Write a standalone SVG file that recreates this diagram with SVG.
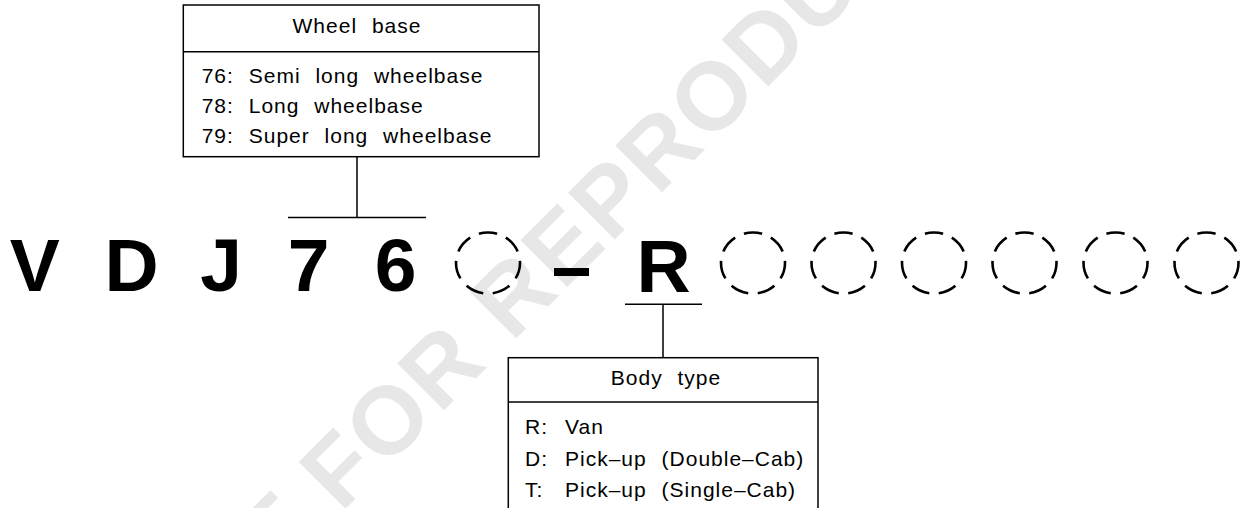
<svg xmlns="http://www.w3.org/2000/svg" width="1241" height="508" viewBox="0 0 1241 508">
  <style>
    .box { fill: #ffffff; stroke: #000000; stroke-width: 1.5; }
    .line { fill: none; stroke: #000000; stroke-width: 1.5; }
    .big { font-family: "Liberation Sans", Arial, sans-serif; font-weight: bold; font-size: 75px; fill: #000000; text-anchor: middle; }
    .label { font-family: "Liberation Sans", Arial, sans-serif; font-size: 21px; fill: #000000; letter-spacing: 1px; word-spacing: 8px; }
    .head { text-anchor: middle; }
    .slot { fill: none; stroke: #000000; stroke-width: 2.6; stroke-dasharray: 6.6 3.4; stroke-dashoffset: 0.8; }
    .mark { font-family: "Liberation Sans", Arial, sans-serif; font-weight: bold; font-size: 96px; letter-spacing: 3px; fill: #a0a0a0; fill-opacity: 0.25; }
  </style>

  <rect width="1241" height="508" fill="#ffffff"/>

  <!-- watermark -->
  <text class="mark" x="170.4" y="683.9" transform="rotate(-45 170.4 683.9)">NOT FOR REPRODUCTION</text>

  <!-- code characters -->
  <g id="code">
    <text class="big" x="34.7" y="290.7">V</text>
    <text class="big" x="131.5" y="290.7">D</text>
    <text class="big" x="221" y="290.7">J</text>
    <text class="big" x="308.5" y="290.7">7</text>
    <text class="big" x="395.5" y="290.7">6</text>
    <ellipse class="slot" cx="488" cy="263" rx="32" ry="30.5" pathLength="70"/>
    <rect x="554" y="268" width="35" height="8" fill="#000000"/>
    <text class="big" x="663.5" y="291.7">R</text>
    <ellipse class="slot" cx="753" cy="263" rx="32" ry="30.5" pathLength="70"/>
    <ellipse class="slot" cx="843.5" cy="263" rx="32" ry="30.5" pathLength="70"/>
    <ellipse class="slot" cx="934" cy="263" rx="32" ry="30.5" pathLength="70"/>
    <ellipse class="slot" cx="1024.5" cy="263" rx="32" ry="30.5" pathLength="70"/>
    <ellipse class="slot" cx="1115.5" cy="263" rx="32" ry="30.5" pathLength="70"/>
    <ellipse class="slot" cx="1206.5" cy="263" rx="32" ry="30.5" pathLength="70"/>
  </g>

  <!-- connectors -->
  <g id="connectors">
    <path class="line" d="M288 217.5 H426 M357 217.5 V156.7"/>
    <path class="line" d="M625 304.3 H702 M663 304.3 V357.7"/>
  </g>

  <!-- wheel base legend -->
  <g id="wheel-base">
    <rect class="box" x="183.3" y="5" width="355.7" height="151.7"/>
    <line class="line" x1="183.3" y1="51.7" x2="539" y2="51.7"/>
    <text class="label head" x="357" y="33.3">Wheel base</text>
    <text class="label" x="201.7" y="83.3">76: Semi long wheelbase</text>
    <text class="label" x="201.7" y="113.3">78: Long wheelbase</text>
    <text class="label" x="201.7" y="143.3">79: Super long wheelbase</text>
  </g>

  <!-- body type legend -->
  <g id="body-type">
    <rect class="box" x="508.3" y="357.7" width="309.7" height="170"/>
    <line class="line" x1="508.3" y1="402" x2="818" y2="402"/>
    <text class="label head" x="666" y="385">Body type</text>
    <text class="label" y="434"><tspan x="525">R:</tspan><tspan x="565">Van</tspan></text>
    <text class="label" y="465.5"><tspan x="525">D:</tspan><tspan x="565">Pick–up (Double–Cab)</tspan></text>
    <text class="label" y="496.7"><tspan x="525">T:</tspan><tspan x="565">Pick–up (Single–Cab)</tspan></text>
  </g>
</svg>
